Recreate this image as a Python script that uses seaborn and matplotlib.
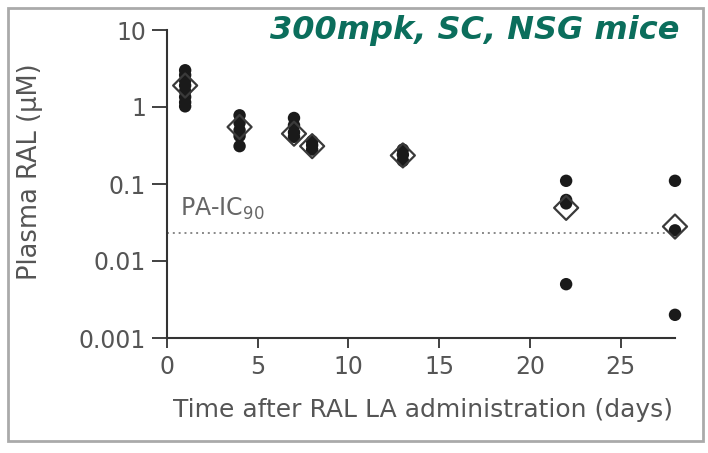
import numpy as np
import pandas as pd
import matplotlib
matplotlib.use("Agg")
import matplotlib.pyplot as plt
import seaborn as sns
from matplotlib.patches import Rectangle

# ---- data ----
days_points = [1]*8 + [4]*5 + [7]*4 + [8]*3 + [13]*3 + [22]*4 + [28]*3
conc_points = [3.0, 2.6, 2.2, 1.9, 1.6, 1.35, 1.15, 1.02,
               0.78, 0.62, 0.50, 0.42, 0.31,
               0.72, 0.58, 0.47, 0.41,
               0.36, 0.32, 0.28,
               0.28, 0.24, 0.20,
               0.11, 0.062, 0.056, 0.005,
               0.11, 0.025, 0.002]
days_mean = [1, 4, 7, 8, 13, 22, 28]
conc_mean = [1.9, 0.55, 0.45, 0.31, 0.235, 0.049, 0.028]
ic90 = 0.023
x_ticks = [0, 5, 10, 15, 20, 25]
y_ticks = [0.001, 0.01, 0.1, 1, 10]
y_ticklabels = ["0.001", "0.01", "0.1", "1", "10"]
title = "300mpk, SC, NSG mice"
xlabel = "Time after RAL LA administration (days)"
ylabel = "Plasma RAL (\u00b5M)"

pts = pd.DataFrame({"day": days_points, "conc": conc_points})
means = pd.DataFrame({"day": days_mean, "conc": conc_mean})

sns.set_style("white")
plt.rcParams['font.family'] = ['DejaVu Sans']
grey = "#555555"

fig = plt.figure(figsize=(7.08, 4.53), dpi=100)
ax = fig.add_axes([167/708, 1-338/453, (675-167)/708, (338-30)/453])

sns.scatterplot(data=pts, x="day", y="conc", ax=ax, color="#1a1a1a", s=80,
                edgecolor="none", zorder=3, clip_on=False, legend=False)
sns.scatterplot(data=means, x="day", y="conc", ax=ax, marker="D", s=150,
                facecolor="none", edgecolor="#3a3a3a", linewidth=1.6,
                zorder=4, clip_on=False, legend=False)

ax.axhline(ic90, xmin=0, xmax=0.985, color="#888888", linestyle=(0, (1, 2)), lw=1.4, zorder=1)
ax.text(0.7, 0.047, "PA-IC$_{90}$", color="#666666", fontsize=17, va="center", ha="left")

ax.set_yscale("log")
ax.set_xlim(0, 28)
ax.set_ylim(0.001, 10)
ax.set_xticks(x_ticks)
ax.set_xticklabels([str(t) for t in x_ticks])
ax.set_yticks(y_ticks)
ax.set_yticklabels(y_ticklabels)
ax.minorticks_off()
ax.tick_params(axis="y", which="major", direction="out", length=11, width=1.3,
               color="#333333", labelcolor=grey, labelsize=17, left=True, pad=4)
ax.tick_params(axis="x", which="major", direction="out", length=7, width=1.3,
               color="#333333", labelcolor=grey, labelsize=17, bottom=True, pad=5)
for s in ["top", "right"]:
    ax.spines[s].set_visible(False)
for s in ["left", "bottom"]:
    ax.spines[s].set_color("#333333")
    ax.spines[s].set_linewidth(1.5)

ax.set_xlabel(xlabel, fontsize=18, color=grey)
ax.set_ylabel(ylabel, fontsize=18.5, color=grey)
ax.xaxis.set_label_coords((423-167)/508, (338-410)/308)
ax.yaxis.set_label_coords((30-167)/508, (338-172)/308)
ax.xaxis.label.set_va("center")
ax.yaxis.label.set_va("center")

fig.text(680/708, 1-30/453, title, fontsize=23, fontweight="bold", fontstyle="italic",
         color="#0b6e5c", ha="right", va="center")

fig.patches.append(Rectangle((8/708, 1-441/453), (703-8)/708, (441-8)/453,
                             transform=fig.transFigure, fill=False,
                             edgecolor="#aaaaaa", lw=2))

fig.savefig("out.png", dpi=100)
